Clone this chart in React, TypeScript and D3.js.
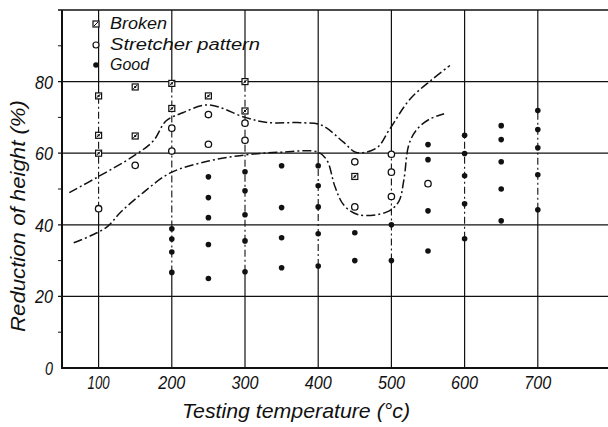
// @ts-nocheck
import React from "react";
import * as d3 from "d3";

// ---- data ----
const xTicks = [100, 200, 300, 400, 500, 600, 700];
const yTicks = [0, 20, 40, 60, 80];
const yMinorTicks = [10, 30, 50, 70, 90];

// [temperature, reduction of height %]
const broken = [
  [100, 76], [100, 65], [100, 60],
  [150, 78.5], [150, 64.8],
  [200, 79.5], [200, 72.5],
  [250, 76],
  [300, 80], [300, 71.8],
  [450, 53.5],
];

const stretcher = [
  [100, 44.5],
  [150, 56.6],
  [200, 67], [200, 60.6],
  [250, 70.8], [250, 62.5],
  [300, 68.4], [300, 63.6],
  [450, 57.6], [450, 45],
  [500, 59.7], [500, 54.7], [500, 47.9],
  [550, 51.5],
];

const good = [
  [200, 38.9], [200, 36], [200, 32.4], [200, 26.7],
  [250, 53.4], [250, 47.6], [250, 42], [250, 34.5], [250, 25],
  [300, 54.8], [300, 49.5], [300, 42.8], [300, 35.5], [300, 26.9],
  [350, 56.5], [350, 44.8], [350, 36.4], [350, 28],
  [400, 56.5], [400, 50.9], [400, 45], [400, 37.5], [400, 28.5],
  [450, 37.8], [450, 30],
  [500, 40], [500, 30],
  [550, 62.4], [550, 58.2], [550, 43.9], [550, 32.7],
  [600, 65], [600, 59.9], [600, 53.7], [600, 45.9], [600, 36.1],
  [650, 67.7], [650, 63.8], [650, 57.6], [650, 50], [650, 41.1],
  [700, 71.9], [700, 66.6], [700, 61.5], [700, 54], [700, 44.2],
];

const upperCurve = [
  [60, 49], [100, 53.5], [150, 59.5], [175, 63.5], [192, 69], [215, 71.3], [250, 73.5],
  [300, 70], [330, 68.6], [380, 68.5], [405, 67.8], [435, 63], [452, 60.2],
  [480, 61.5], [497, 66.5], [525, 75], [555, 80.5], [580, 84.5],
];

const lowerCurve = [
  [66, 35], [90, 37], [112, 39.5], [130, 43.5], [161, 49], [198, 54.5],
  [250, 57.8], [300, 59.5], [350, 60.3], [400, 60.3], [412, 58], [423, 50.6],
  [435, 45.5], [455, 42.8], [494, 43.6], [510, 46.5], [517, 52.5], [524, 62.5],
  [535, 66.7], [552, 69.5], [572, 71],
];

const legendItems = ["Broken", "Stretcher pattern", "Good"];

const W = 608, H = 427;
const ink = "#111";
const font = "'Liberation Sans', 'DejaVu Sans', sans-serif";

export default function App() {
  const x = d3.scaleLinear().domain([50, 800]).range([62, 611]);
  const y = d3.scaleLinear().domain([0, 100]).range([368, 10]);

  const curve = d3
    .line()
    .x((d) => x(d[0]))
    .y((d) => y(d[1]))
    .curve(d3.curveCatmullRom.alpha(0.5));

  const all = [...broken, ...stretcher, ...good];
  // vertical grid: solid outside the measured span, dash-dot inside it
  const columns = xTicks.map((t) => {
    const vals = all.filter((d) => d[0] === t).map((d) => d[1]);
    return { t, lo: d3.min(vals), hi: d3.max(vals) };
  });

  return (
    <svg
      width={W}
      height={H}
      style={{ position: "absolute", left: 0, top: 0, background: "#fff" }}
    >
      {/* horizontal grid */}
      {yTicks.slice(1).map((v) => (
        <line key={v} x1={58} x2={W} y1={y(v)} y2={y(v)} stroke={ink} strokeWidth={1.2} />
      ))}
      {/* top border */}
      <line x1={58} x2={W} y1={y(100)} y2={y(100)} stroke={ink} strokeWidth={1.3} />

      {/* vertical grid */}
      {columns.map(({ t, lo, hi }) =>
        lo == null ? (
          <line key={t} x1={x(t)} x2={x(t)} y1={y(0)} y2={y(100)} stroke={ink} strokeWidth={1.2} />
        ) : (
          <g key={t}>
            <line x1={x(t)} x2={x(t)} y1={y(0)} y2={y(lo)} stroke={ink} strokeWidth={1.2} />
            <line x1={x(t)} x2={x(t)} y1={y(lo)} y2={y(hi)} stroke={ink} strokeWidth={1.1} strokeDasharray="7,3,2,3" />
            <line x1={x(t)} x2={x(t)} y1={y(hi)} y2={y(100)} stroke={ink} strokeWidth={1.2} />
          </g>
        )
      )}

      {/* axes */}
      <line x1={x(50)} x2={x(50)} y1={y(0) + 1} y2={y(100)} stroke={ink} strokeWidth={2} />
      <line x1={x(50)} x2={W} y1={y(0)} y2={y(0)} stroke={ink} strokeWidth={2} />
      {yMinorTicks.map((v) => (
        <line key={v} x1={x(50) - 4} x2={x(50)} y1={y(v)} y2={y(v)} stroke={ink} strokeWidth={1} />
      ))}

      {/* boundary curves */}
      <path d={curve(upperCurve)} fill="none" stroke={ink} strokeWidth={1.5} strokeDasharray="9,3,2,3" />
      <path d={curve(lowerCurve)} fill="none" stroke={ink} strokeWidth={1.5} strokeDasharray="9,3,2,3" />

      {/* points */}
      {good.map((d, i) => (
        <circle key={"g" + i} cx={x(d[0])} cy={y(d[1])} r={2.8} fill={ink} />
      ))}
      {stretcher.map((d, i) => (
        <circle key={"s" + i} cx={x(d[0])} cy={y(d[1])} r={3.2} fill="#fff" stroke={ink} strokeWidth={1.3} />
      ))}
      {broken.map((d, i) => (
        <g key={"b" + i} transform={`translate(${x(d[0])},${y(d[1])})`}>
          <rect x={-3} y={-3} width={6} height={6} fill="#fff" stroke={ink} strokeWidth={1.2} />
          <line x1={-2} y1={2} x2={2} y2={-2} stroke={ink} strokeWidth={1} />
          <rect x={-1} y={-1} width={2} height={2} fill={ink} />
        </g>
      ))}

      {/* tick labels */}
      {xTicks.map((t) => (
        <text
          key={t}
          x={x(t)}
          y={389}
          textAnchor="middle"
          fontFamily={font}
          fontStyle="italic"
          fontSize={19}
          textLength={t === 100 ? 22 : 27}
          lengthAdjust="spacingAndGlyphs"
          fill={ink}
        >
          {t}
        </text>
      ))}
      {yTicks.map((v) => (
        <text
          key={v}
          x={53}
          y={y(v) + 7}
          textAnchor="end"
          fontFamily={font}
          fontStyle="italic"
          fontSize={19}
          textLength={v === 0 ? 8 : 18}
          lengthAdjust="spacingAndGlyphs"
          fill={ink}
        >
          {v}
        </text>
      ))}

      {/* legend */}
      {legendItems.map((name, i) => {
        const cy = [24, 45, 65][i];
        return (
          <g key={name}>
            {i === 0 && (
              <g transform={`translate(96,${cy})`}>
                <rect x={-3} y={-3} width={6} height={6} fill="#fff" stroke={ink} strokeWidth={1.2} />
                <line x1={-2} y1={2} x2={2} y2={-2} stroke={ink} strokeWidth={1} />
              </g>
            )}
            {i === 1 && <circle cx={96} cy={cy} r={3} fill="#fff" stroke={ink} strokeWidth={1.2} />}
            {i === 2 && <circle cx={96} cy={cy} r={2.8} fill={ink} />}
            <text
              x={110}
              y={cy + 5}
              fontFamily={font}
              fontStyle="italic"
              fontSize={16}
              textLength={[57, 150, 39][i]}
              lengthAdjust="spacingAndGlyphs"
              fill={ink}
            >
              {name}
            </text>
          </g>
        );
      })}

      {/* axis titles */}
      <text
        x={182}
        y={418}
        fontFamily={font}
        fontStyle="italic"
        fontSize={21}
        textLength={228}
        lengthAdjust="spacingAndGlyphs"
        fill={ink}
      >
        Testing temperature (°c)
      </text>
      <text
        transform="translate(25,332) rotate(-90)"
        x={0}
        y={0}
        fontFamily={font}
        fontStyle="italic"
        fontSize={21}
        textLength={232}
        lengthAdjust="spacingAndGlyphs"
        fill={ink}
      >
        Reduction of height (%)
      </text>
    </svg>
  );
}
